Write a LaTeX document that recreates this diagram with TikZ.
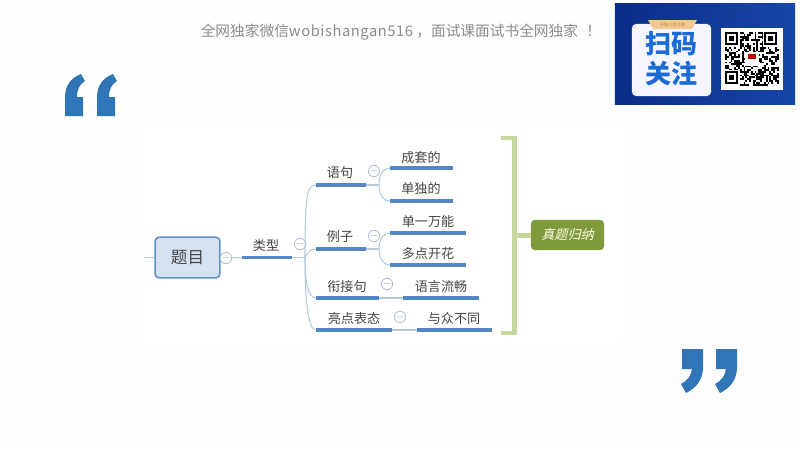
\documentclass[tikz,border=0pt]{standalone}
\usepackage{fontspec}
\usepackage{color}
\setmainfont{Noto Sans CJK SC}
\newfontfamily\slantfont[FakeSlant=0.25]{Noto Sans CJK SC}
\newfontfamily\headfont[LetterSpace=4]{Noto Sans CJK SC}
\usetikzlibrary{calc}
\definecolor{pagecol}{HTML}{FEFEFE}
\definecolor{ulblue}{HTML}{5485C4}
\definecolor{thinblue}{HTML}{B3CADF}
\definecolor{foldcol}{HTML}{B4C0CF}
\definecolor{foldtxt}{HTML}{8E9BAB}
\definecolor{quoteblue}{HTML}{2F75B8}
\definecolor{boxblue}{HTML}{D6E2F1}
\definecolor{boxedge}{HTML}{5F8FCB}
\definecolor{barcol}{HTML}{C5D79C}
\definecolor{sumcol}{HTML}{7F9A3C}
\definecolor{txtcol}{HTML}{454545}
\definecolor{bandark}{HTML}{0B2C88}
\definecolor{banlight}{HTML}{1646A8}
\definecolor{scanblue}{HTML}{1A6BD6}
\definecolor{tabcol}{HTML}{F2C896}
\tikzset{
  lab/.style={inner sep=0pt,yshift=-0.6pt,text=txtcol,font=\fontsize{9.3}{11}\selectfont},
  ul/.style={ulblue,line width=2.2pt},
  thinlink/.style={thinblue,line width=0.75pt},
  fold/.style={circle,draw=foldcol,fill=white,line width=0.6pt,minimum size=6.2pt,inner sep=0pt,text=foldtxt,font=\fontsize{7}{7}\selectfont},
  quote/.style={fill=quoteblue,draw=none}
}
\begin{document}
\begin{tikzpicture}[x=0.025cm,y=-0.025cm]
\useasboundingbox (0,0) rectangle (800,450);
\fill[pagecol] (0,0) rectangle (800,450);
\fill[white] (143,125) rectangle (620,340);
% quotes
\foreach \d in {0,32}
    \fill[quote,shift={(\d,0)}] (65,116) -- (65,98) .. controls (65,85) and (71,78) .. (81,74) -- (85,81) .. controls (80,84) and (77,89) .. (77,97) -- (83,97) -- (83,116) -- cycle;
\foreach \d in {0,34}
    \fill[quote,shift={(\d,0)}] (682,349) -- (703,349) -- (703,367) .. controls (703,380) and (696,388) .. (686,393) -- (681,384) .. controls (687,381) and (691,376) .. (692,369) -- (682,369) -- cycle;
% top line
\draw (200.5,32) node[anchor=west,inner sep=0pt,text=gray!90,font=\fontsize{10.45}{12}\selectfont](head){全网独家微信{\headfont wobishangan516} ，面试课面试书全网独家\hspace{6pt}！};
% banner
\draw (705,54) node[minimum width=4.5cm,minimum height=2.5cm,inner sep=0pt,left color=bandark,right color=banlight](ban){};
\draw (671.5,60) node[minimum width=1.98cm,minimum height=1.8cm,inner sep=0pt,rounded corners=3pt,fill=blue!4](card){};
\fill[tabcol] (648,20) -- (697,20) -- (692,29) -- (653,29) -- cycle;
\draw (672.5,25) node[inner sep=0pt,text=brown,font=\fontsize{3}{3}\selectfont](tab){开始上岸之旅};
\draw (671.5,44) node[inner sep=0pt,text=scanblue,font=\bfseries\fontsize{18.5}{19}\selectfont](scan){扫码};
\draw (671.5,74) node[inner sep=0pt,text=scanblue,font=\bfseries\fontsize{18.5}{19}\selectfont](follow){关注};
\draw (752,59) node[minimum width=1.57cm,minimum height=1.57cm,inner sep=0pt,fill=white](qr){};
\pgfmathsetseed{516}
\foreach \i in {0,...,28}
    \foreach \j in {0,...,28}{
        \pgfmathparse{rnd<0.5 ? 1 : 0}
        \ifnum\pgfmathresult=1
            \fill[black] (725+\i*1.85,32+\j*1.85) rectangle +(1.85,1.85);
        \fi
    }
\foreach \x/\y in {725/32,764/32,725/71}{
    \fill[white] (\x-1,\y-1) rectangle +(16,16);
    \fill[black] (\x,\y) rectangle +(13,13);
    \fill[white] (\x+2,\y+2) rectangle +(9,9);
    \fill[black] (\x+4,\y+4) rectangle +(5,5);
}
\fill[white] (745,52) rectangle +(14,14);
\fill[red!75!black] (748,54) rectangle +(8,5);
% map nodes
\draw (187.5,257.5) node[minimum width=1.62cm,minimum height=1.02cm,inner sep=0pt,rounded corners=3pt,draw=boxedge,fill=boxblue,line width=1.1pt,text=txtcol,font=\fontsize{11.8}{13}\selectfont](t0){题目}
    (145,257.5) coordinate(t1)
    (226,258) node[fold](c0){$-$}
    (266,245) node[lab](a0){类型}
    (300,244) node[fold](c1){$-$}
    (305,257.5) coordinate(s0);
\draw (340,172) node[lab](a1){语句}
    (340,236) node[lab](a2){例子}
    (347,286) node[lab](a3){衔接句}
    (354,318) node[lab](a4){亮点表态}
    (421,157) node[lab](b1){成套的}
    (421,188) node[lab](b2){单独的}
    (428,221) node[lab](b3){单一万能}
    (428,253) node[lab](b4){多点开花}
    (441,286) node[lab](b5){语言流畅}
    (454,318) node[lab](b6){与众不同}
    (374,171) node[fold](c2){$-$}
    (374,236) node[fold](c3){$-$}
    (387,284) node[fold](c4){$-$}
    (400,317) node[fold](c5){$-$};
\foreach \n/\xa/\xb/\y in {u0/242/292/257.5,u1/316/366/185,u2/316/366/249,u3/316/379/298,u4/316/392/330,v1/390/453/168,v2/390/453/201,v3/390/466/233,v4/390/466/265,v5/403/479/298,v6/417/492/330}{
    \coordinate (\n l) at (\xa,\y);
    \coordinate (\n r) at (\xb,\y);
}
\coordinate (s1) at (379,185);
\coordinate (s2) at (379,249);
% thin links
\draw[thinlink] (t1) -- (t0);
\draw[thinlink] (t0) -- (c0);
\draw[thinlink] (c0) -- (u0l);
\draw[thinlink] (u0r) -- (s0);
\draw[thinlink] (s0) .. controls (305,195) and (307,185) .. (u1l);
\draw[thinlink] (s0) .. controls (309,251) and (311,249) .. (u2l);
\draw[thinlink] (s0) .. controls (305,283) and (308,298) .. (u3l);
\draw[thinlink] (s0) .. controls (305,300) and (308,330) .. (u4l);
\draw[thinlink] (u1r) -- (s1);
\draw[thinlink] (u2r) -- (s2);
\draw[thinlink] (s1) .. controls (379,175) and (383,168) .. (v1l);
\draw[thinlink] (s1) .. controls (379,195) and (383,201) .. (v2l);
\draw[thinlink] (s2) .. controls (379,240) and (383,233) .. (v3l);
\draw[thinlink] (s2) .. controls (379,258) and (383,265) .. (v4l);
\draw[thinlink] (u3r) -- (v5l);
\draw[thinlink] (u4r) -- (v6l);
% underlines
\foreach \n in {u0,u1,u2,u3,u4,v1,v2,v3,v4,v5,v6}
    \draw[ul] (\n l) -- (\n r);
% bracket
\draw (567.5,235) node[minimum width=1.83cm,minimum height=0.76cm,inner sep=0pt,rounded corners=3pt,fill=sumcol,text=white!90!yellow,font=\slantfont\fontsize{9.3}{11}\selectfont](sum){真题归纳}
    (501,138) coordinate(k1)
    (514.5,138) coordinate(k2)
    (514.5,333) coordinate(k3)
    (501,333) coordinate(k4)
    (514.5,235.5) coordinate(k5)
    (531,235.5) coordinate(k6);
\draw[barcol,line width=3.4pt] (k1) -- (k2) -- (k3) -- (k4);
\draw[barcol,line width=3.4pt] (k5) -- (k6);
\end{tikzpicture}
\end{document}
